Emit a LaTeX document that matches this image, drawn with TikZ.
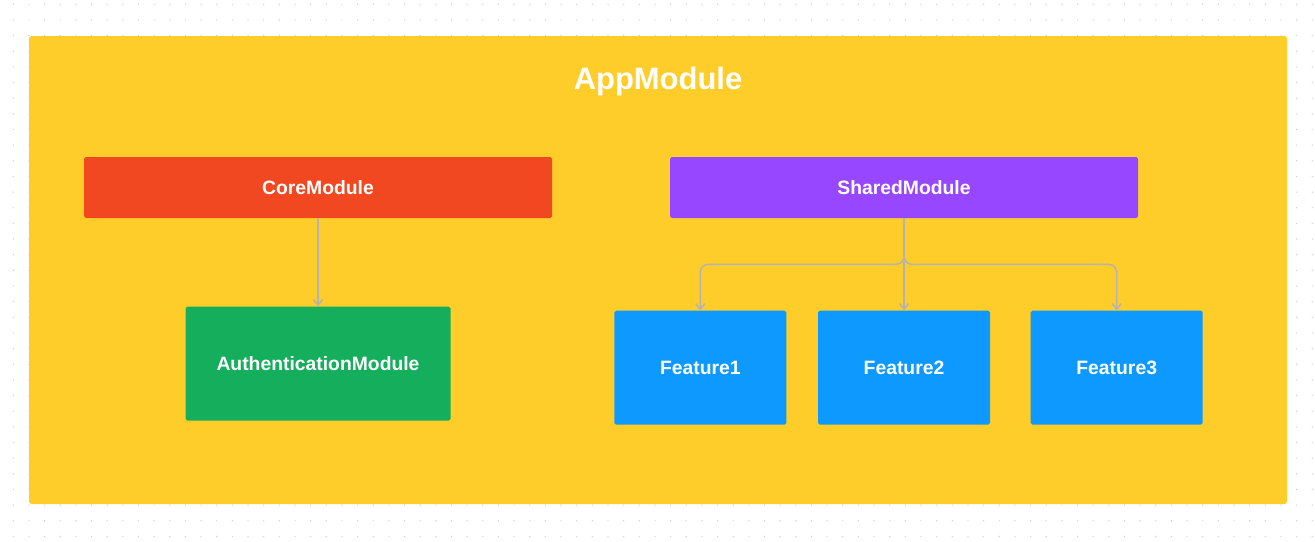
\documentclass[tikz,border=0pt]{standalone}
\usepackage{fontspec}
\setmainfont{Liberation Sans}
\usetikzlibrary{positioning,arrows.meta,calc}
\definecolor{appyellow}{HTML}{FFCD29}
\definecolor{corered}{HTML}{F24822}
\definecolor{sharedpurple}{HTML}{9747FF}
\definecolor{authgreen}{HTML}{14AE5C}
\definecolor{featblue}{HTML}{0D99FF}
\definecolor{linkgrey}{HTML}{B3B3B3}
\definecolor{dotgrey}{HTML}{CCCCCC}

\begin{document}
\begin{tikzpicture}[node distance=1.8cm,
  box/.style={rectangle,rounded corners=1pt,text=white,inner sep=0pt,
    font=\bfseries\fontsize{11}{13}\selectfont},
  wide/.style={box,minimum width=9.36cm,minimum height=1.22cm},
  feat/.style={box,fill=featblue,minimum width=3.44cm,minimum height=2.28cm},
  link/.style={draw=linkgrey,line width=0.85pt,
    -{Straight Barb[length=1.1mm,width=1.8mm]}}]
\useasboundingbox (0,0) rectangle (26.3,-10.82);
% dot grid
\foreach \i in {0,...,83}
  \foreach \j in {0,...,34}
    \fill[dotgrey] (0.266+0.313*\i,-0.086-0.313*\j) circle (0.014);

% AppModule frame
\node[fill=appyellow,rounded corners=1.5pt,minimum width=25.16cm,minimum height=9.36cm] (app) at (13.16,-5.4) {};
\node[anchor=base,text=white,font=\bfseries\fontsize{17.6}{20}\selectfont] (title) at (13.16,-1.786) {AppModule};

% modules
\node[wide,fill=corered] (core) at (6.36,-3.75) {CoreModule};
\node[wide,fill=sharedpurple] (shared) at (18.08,-3.75) {SharedModule};
\node[box,fill=authgreen,minimum width=5.3cm,minimum height=2.28cm,below=1.76cm of core] (auth) {AuthenticationModule};
\node[feat,below=1.84cm of shared] (feat2) {Feature2};
\node[feat,left=0.62cm of feat2] (feat1) {Feature1};
\node[feat,right=0.8cm of feat2] (feat3) {Feature3};

\coordinate (split) at ([yshift=-0.6cm]shared.south);
\coordinate (bus) at ([yshift=-0.92cm]shared.south);

\draw[link] (core) -- (auth);
\draw[link] (shared) -- (feat2);
\draw[link,rounded corners=0.16cm] (split) -- (bus) -| (feat1.north);
\draw[link,rounded corners=0.16cm] (split) -- (bus) -| (feat3.north);
\end{tikzpicture}
\end{document}
